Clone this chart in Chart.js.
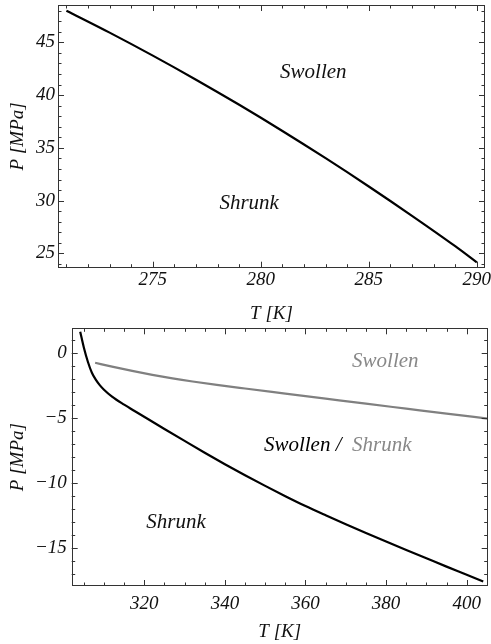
<!DOCTYPE html>
<html>
<head>
<meta charset="utf-8">
<script src="https://cdn.jsdelivr.net/npm/chart.js@4.4.1/dist/chart.umd.min.js"></script>
<style>
  html, body { margin: 0; padding: 0; background: #fff; }
  #wrap { position: relative; width: 491px; height: 644px; }
  canvas { position: absolute; left: 0; }
</style>
</head>
<body>
<div id="wrap">
  <canvas id="topChart" width="491" height="325" style="top:0"></canvas>
  <canvas id="bottomChart" width="491" height="319" style="top:325px"></canvas>
</div>
<script>
// top panel: swollen / shrunk boundary
const topT = [271, 273, 275, 277, 279, 281, 283, 285, 287, 289, 290];
const topP = [48.0, 45.92, 43.74, 41.46, 39.08, 36.6, 34.02, 31.34, 28.56, 25.68, 24.15];
const topXTicks = [275, 280, 285, 290];
const topYTicks = [25, 30, 35, 40, 45];

// bottom panel: lower (black) and upper (gray) boundaries
const lowT = [304.1, 305, 306, 307, 308, 309, 310, 312, 315, 318, 321, 325, 330, 335, 340, 345,
  350, 355, 360, 365, 370, 375, 380, 385, 390, 395, 400, 404.1];
const lowP = [1.66, 0.45, -0.65, -1.5, -2.05, -2.47, -2.8, -3.33, -3.95, -4.52, -5.08, -5.82, -6.74, -7.65, -8.53, -9.38,
  -10.2, -10.99, -11.75, -12.46, -13.15, -13.82, -14.48, -15.13, -15.77, -16.41, -17.04, -17.56];
const upT = [307.8, 312, 317, 322, 327, 332, 338, 345, 355, 365, 375, 385, 395, 405.2];
const upP = [-0.73, -1.03, -1.36, -1.66, -1.93, -2.17, -2.43, -2.71, -3.1, -3.49, -3.88, -4.26, -4.64, -5.02];
const botXTicks = [320, 340, 360, 380, 400];
const botYTicks = [0, -5, -10, -15];

const serif = '"Liberation Serif", "Times New Roman", serif';
const tickFont = { family: serif, size: 19, style: 'italic' };
const noteFont = 'italic 21px ' + serif;

const pts = (xs, ys) => xs.map((v, i) => ({ x: v, y: ys[i] }));
const minus = v => String(v).replace('-', '\u2212');

// Mathematica-like frame with inward ticks on all four sides
const framePlugin = {
  id: 'frame',
  afterDatasetsDraw(chart, args, o) {
    const { ctx, chartArea: a, scales: { x, y } } = chart;
    ctx.save();
    ctx.strokeStyle = '#333';
    ctx.lineWidth = 1;
    ctx.strokeRect(Math.round(a.left) + 0.5, Math.round(a.top) + 0.5,
      Math.round(a.right - a.left) - 1, Math.round(a.bottom - a.top) - 1);
    const each = (s, step, major, fn) => {
      for (let v = Math.ceil(s.min / step) * step; v <= s.max + 1e-9; v += step) {
        const isMajor = Math.abs(v / major - Math.round(v / major)) < 1e-6;
        fn(Math.round(s.getPixelForValue(v)) + 0.5, isMajor ? 6 : 3.5);
      }
    };
    ctx.beginPath();
    each(x, o.xMinor, o.xMajor, (px, len) => {
      ctx.moveTo(px, a.bottom); ctx.lineTo(px, a.bottom - len);
      ctx.moveTo(px, a.top); ctx.lineTo(px, a.top + len);
    });
    each(y, o.yMinor, o.yMajor, (py, len) => {
      ctx.moveTo(a.left, py); ctx.lineTo(a.left + len, py);
      ctx.moveTo(a.right, py); ctx.lineTo(a.right - len, py);
    });
    ctx.stroke();

    // region labels, placed in data coordinates
    ctx.font = noteFont;
    ctx.textBaseline = 'middle';
    ctx.textAlign = 'left';
    (o.notes || []).forEach(n => {
      const total = n.parts.reduce((w, p) => w + ctx.measureText(p.t).width, 0);
      let px = x.getPixelForValue(n.x) - total / 2;
      const py = y.getPixelForValue(n.y);
      n.parts.forEach(p => {
        ctx.fillStyle = p.c;
        ctx.fillText(p.t, px, py);
        px += ctx.measureText(p.t).width;
      });
    });
    ctx.restore();
  }
};

function makeChart(id, cfg) {
  return new Chart(document.getElementById(id), {
    type: 'scatter',
    data: { datasets: cfg.datasets },
    plugins: [framePlugin],
    options: {
      responsive: false,
      animation: false,
      events: [],
      layout: { padding: cfg.pad },
      elements: { point: { radius: 0 } },
      plugins: {
        legend: { display: false },
        tooltip: { enabled: false },
        frame: cfg.frame
      },
      scales: {
        x: {
          type: 'linear', min: cfg.xMin, max: cfg.xMax,
          grid: { display: false, drawTicks: false },
          border: { display: false },
          afterBuildTicks: s => { s.ticks = cfg.xTicks.map(v => ({ value: v })); },
          afterFit: s => { s.height = cfg.xHeight; s.paddingLeft = 0; s.paddingRight = 0; },
          ticks: { autoSkip: false, maxRotation: 0, padding: cfg.xPad, color: '#111', font: tickFont, callback: minus },
          title: { display: true, text: 'T [K]', color: '#111', font: tickFont, padding: { top: 0, bottom: cfg.xTitlePad } }
        },
        y: {
          type: 'linear', min: cfg.yMin, max: cfg.yMax,
          grid: { display: false, drawTicks: false },
          border: { display: false },
          afterBuildTicks: s => { s.ticks = cfg.yTicks.map(v => ({ value: v })); },
          afterFit: s => { s.width = cfg.yWidth; s.paddingTop = 0; s.paddingBottom = 0; },
          ticks: { autoSkip: false, padding: cfg.yPad, color: '#111', font: tickFont, callback: minus },
          title: { display: true, text: 'P [MPa]', color: '#111', font: tickFont, padding: { top: 7, bottom: 0 } }
        }
      }
    }
  });
}

const lineStyle = (data, color) => ({
  data, showLine: true, borderColor: color, borderWidth: 2.2,
  cubicInterpolationMode: 'monotone', fill: false
});

makeChart('topChart', {
  datasets: [lineStyle(pts(topT, topP), '#000')],
  pad: { top: 5, right: 6, left: 0, bottom: 0 },
  xMin: 270.61, xMax: 290.38, yMin: 23.64, yMax: 48.54,
  xTicks: topXTicks, yTicks: topYTicks,
  xHeight: 57.3, yWidth: 58, xPad: 1, yPad: 3, xTitlePad: 0,
  frame: {
    xMinor: 1, xMajor: 5, yMinor: 1, yMajor: 5,
    notes: [
      { x: 282.43, y: 42.18, parts: [{ t: 'Swollen', c: '#111' }] },
      { x: 279.46, y: 29.74, parts: [{ t: 'Shrunk', c: '#111' }] }
    ]
  }
});

makeChart('bottomChart', {
  datasets: [lineStyle(pts(upT, upP), '#808080'), lineStyle(pts(lowT, lowP), '#000')],
  pad: { top: 3.3, right: 3.3, left: 0, bottom: 0 },
  xMin: 301.99, xMax: 405.21, yMin: -17.9, yMax: 1.92,
  xTicks: botXTicks, yTicks: botYTicks,
  xHeight: 58, yWidth: 71.7, xPad: 7, yPad: 5, xTitlePad: 1,
  frame: {
    xMinor: 5, xMajor: 20, yMinor: 1, yMajor: 5,
    notes: [
      { x: 379.8, y: -0.65, parts: [{ t: 'Swollen', c: '#888' }] },
      { x: 368.0, y: -7.11, parts: [{ t: 'Swollen /  ', c: '#000' }, { t: 'Shrunk', c: '#888' }] },
      { x: 327.88, y: -13.03, parts: [{ t: 'Shrunk', c: '#111' }] }
    ]
  }
});
</script>
</body>
</html>
